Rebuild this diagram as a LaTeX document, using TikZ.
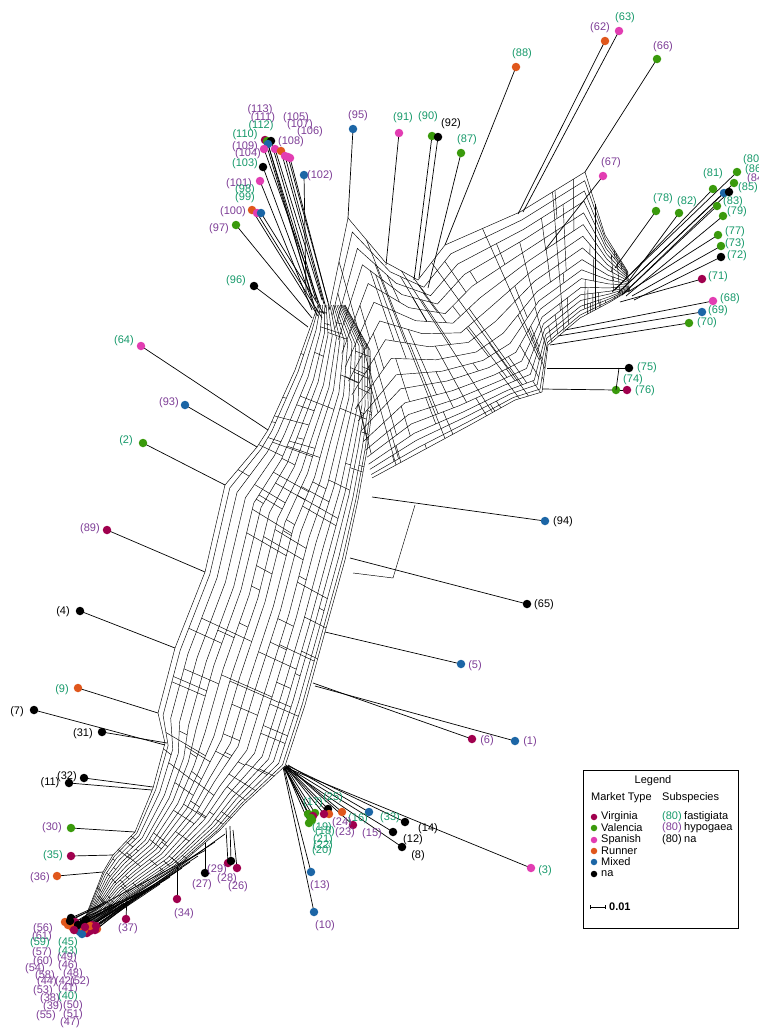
\documentclass[tikz,border=0pt]{standalone}
\usepackage{fontspec}
\setmainfont{Liberation Sans}
\usetikzlibrary{calc,arrows.meta}
\definecolor{cVir}{HTML}{A0004E}
\definecolor{cVal}{HTML}{3A9A0C}
\definecolor{cSpa}{HTML}{E23DB2}
\definecolor{cRun}{HTML}{E0571C}
\definecolor{cMix}{HTML}{1C66A6}
\definecolor{cNa}{HTML}{000000}
\definecolor{lFas}{HTML}{16996A}
\definecolor{lHyp}{HTML}{7D3D96}
\pgfdeclarelayer{edges}
\pgfsetlayers{edges,main}
\newcommand\leaf[6]{%
  \coordinate (a#1) at (#4);
  \node[dot,fill=#3] (d#1) at (#2) {};
  \begin{pgfonlayer}{edges}\draw[leafedge] (a#1) -- (d#1.center);\end{pgfonlayer}
  \node[lab,text=#6] (t#1) at (#5) {(#1)};
}
\begin{document}
\begin{tikzpicture}[x=1pt,y=-1pt,
  net/.style={line width=0.45pt},
  leafedge/.style={line width=0.7pt},
  dot/.style={circle,inner sep=0pt,minimum size=8.5pt},
  ldot/.style={circle,inner sep=0pt,minimum size=6.5pt},
  lab/.style={font=\fontsize{11}{12}\selectfont,inner sep=0pt}]
\useasboundingbox (0,0) rectangle (759,1028);

% ---------- trunk mesh ----------
\foreach \p [count=\i from 0] in {{85,918},{103,872},{113,855},{135,832},{153,788},{165,743},{158,713},{175,648},{205,572},{225,485},{257,447},{268,430},{295,370},{310,328},{318,305}}
  \coordinate (L\i) at (\p);
\foreach \p [count=\i from 0] in {{92,926},{127,898},{150,884},{177,867},{220,830},{243,805},{285,766},{305,705},{325,632},{345,560},{358,500},{367,450},{372,410},{370,350},{345,305}}
  \coordinate (R\i) at (\p);
\def\tlist{{0,0.04,0.1,0.17,0.24,0.3,0.37,0.44,0.5,0.57,0.63,0.7,0.76,0.82,0.87,0.91,0.95,0.98,1}}
\foreach \s in {0,0.04,0.1,0.17,0.24,0.3,0.37,0.44,0.5,0.57,0.63,0.7,0.76,0.82,0.87,0.91,0.95,0.98,1}
  \draw[net] ($(L0)!\s!(R0)$) \foreach \i in {1,...,14} { -- ($(L\i)!\s!(R\i)$) };
\pgfmathsetseed{11}
\foreach \i in {0,...,13}{
  \foreach \r in {1,...,11}{
    \pgfmathtruncatemacro\j{\i+1}
    \pgfmathsetmacro\f{0.05+0.9*rnd}
    \pgfmathtruncatemacro\a{floor(17.99*rnd)}
    \pgfmathtruncatemacro\b{min(\a+1+floor(5.99*rnd),18)}
    \pgfmathsetmacro\sa{\tlist[\a]}
    \pgfmathsetmacro\sb{\tlist[\b]}
    \coordinate (pL) at ($(L\i)!\f!(L\j)$);
    \coordinate (pR) at ($(R\i)!\f!(R\j)$);
    \draw[net] ($(pL)!\sa!(pR)$) -- ($(pL)!\sb!(pR)$);
  }
}

% ---------- arm mesh ----------
\foreach \p [count=\i from 0] in {{330,305},{348,218},{385,262},{418,280},{445,245},{520,212},{585,172},{605,235},{628,272}}
  \coordinate (T\i) at (\p);
\foreach \p [count=\i from 0] in {{372,478},{420,452},{470,425},{515,400},{542,392},{548,345},{580,318},{610,302},{630,290}}
  \coordinate (B\i) at (\p);
\def\alist{{0,0.06,0.13,0.2,0.28,0.36,0.44,0.52,0.6,0.67,0.73,0.79,0.84,0.88,0.92,0.95,0.98,1}}
\foreach \s in {0,0.06,0.13,0.2,0.28,0.36,0.44,0.52,0.6,0.67,0.73,0.79,0.84,0.88,0.92,0.95,0.98,1}
  \draw[net] ($(T0)!\s!(B0)$) \foreach \i in {1,...,8} { -- ($(T\i)!\s!(B\i)$) };
\pgfmathsetseed{5}
\foreach \i in {0,...,7}{
  \pgfmathtruncatemacro\j{\i+1}
  \coordinate (qT) at ($(T\i)!0.5!(T\j)$);
  \coordinate (qB) at ($(B\i)!0.5!(B\j)$);
  \draw[net] (qT) -- (qB);
  \foreach \r in {1,...,11}{
    \pgfmathsetmacro\f{0.05+0.9*rnd}
    \pgfmathtruncatemacro\a{floor(16.99*rnd)}
    \pgfmathtruncatemacro\b{min(\a+1+floor(5.99*rnd),17)}
    \pgfmathsetmacro\sa{\alist[\a]}
    \pgfmathsetmacro\sb{\alist[\b]}
    \coordinate (pT) at ($(T\i)!\f!(T\j)$);
    \coordinate (pB) at ($(B\i)!\f!(B\j)$);
    \draw[net] ($(pT)!\sa!(pB)$) -- ($(pT)!\sb!(pB)$);
  }
}

% ---------- leaves: top cluster ----------
\leaf{113}{265,140}{cVir}{312,296}{260,110}{lHyp}
\leaf{112}{267,141}{cVal}{316,300}{261,126}{lFas}
\leaf{111}{271,141}{cNa}{318,303}{263,118}{lHyp}
\leaf{110}{268,144}{cMix}{314,305}{245,135}{lFas}
\leaf{109}{264,149}{cSpa}{320,306}{245,147}{lHyp}
\leaf{104}{275,149}{cSpa}{322,300}{248,154}{lHyp}
\leaf{108}{281,151}{cRun}{324,304}{291,142}{lHyp}
\leaf{105}{285,156}{cSpa}{326,308}{296,118}{lHyp}
\leaf{107}{288,157}{cSpa}{328,302}{300,125}{lHyp}
\leaf{106}{290,158}{cSpa}{330,310}{310,132}{lHyp}
\leaf{103}{263,167}{cNa}{316,312}{245,164}{lFas}
\leaf{101}{260,181}{cSpa}{312,310}{239,184}{lHyp}
\leaf{102}{304,175}{cMix}{306,292}{320,176}{lHyp}
\leaf{100}{252,210}{cRun}{318,316}{233,212}{lHyp}
\leaf{98}{257,213}{cSpa}{322,318}{245,190}{lFas}
\leaf{99}{261,213}{cMix}{324,314}{245,198}{lFas}
\leaf{97}{236,225}{cVal}{312,318}{219,229}{lHyp}
\leaf{96}{254,286}{cNa}{308,327}{236,281}{lFas}
% top middle
\leaf{95}{353,129}{cMix}{348,218}{358,116}{lHyp}
\leaf{91}{399,133}{cSpa}{386,265}{403,118}{lFas}
\leaf{90}{432,136}{cVal}{414,280}{428,117}{lFas}
\leaf{92}{438,137}{cNa}{419,278}{451,124}{black}
\leaf{87}{461,153}{cVal}{428,288}{467,140}{lFas}
\leaf{88}{516,67}{cRun}{445,245}{522,54}{lFas}
\leaf{62}{605,41}{cRun}{518,214}{600,28}{lHyp}
\leaf{63}{619,31}{cSpa}{523,212}{625,18}{lFas}
\leaf{66}{657,59}{cVal}{585,172}{663,47}{lHyp}
\leaf{67}{603,176}{cSpa}{545,250}{611,163}{lHyp}
% right
\leaf{78}{656,211}{cVal}{615,268}{663,199}{lFas}
\leaf{82}{679,213}{cVal}{628,282}{687,202}{lFas}
\leaf{81}{713,189}{cVal}{615,290}{713,174}{lFas}
\leaf{80}{737,172}{cVal}{612,292}{753,160}{lFas}
\leaf{86}{734,183}{cVal}{618,293}{755,170}{lFas}
\leaf{84}{724,193}{cMix}{620,291}{757,179}{lHyp}
\leaf{85}{729,192}{cNa}{622,295}{748,188}{lFas}
\leaf{83}{717,206}{cVal}{624,293}{733,202}{lFas}
\leaf{79}{723,216}{cVal}{626,296}{737,212}{lFas}
\leaf{77}{718,235}{cVal}{628,292}{735,232}{lFas}
\leaf{73}{721,246}{cVal}{632,296}{735,244}{lFas}
\leaf{72}{721,257}{cNa}{634,300}{737,256}{lFas}
\leaf{71}{702,279}{cVir}{620,302}{718,277}{lFas}
\leaf{68}{713,301}{cSpa}{565,330}{730,299}{lFas}
\leaf{69}{702,312}{cMix}{558,336}{718,311}{lFas}
\leaf{70}{689,323}{cVal}{550,345}{707,323}{lFas}
\leaf{75}{629,368}{cNa}{547,368}{647,368}{lFas}
\leaf{74}{616,390}{cVal}{542,389}{633,380}{lFas}
\leaf{76}{627,390}{cVir}{616,390}{645,391}{lFas}
\coordinate (s75) at (619,368);
\draw[leafedge] (s75) -- (d74.center);
% middle right
\leaf{94}{545,521}{cMix}{372,497}{563,522}{black}
\leaf{65}{527,604}{cNa}{350,558}{544,605}{black}
\coordinate (s65a) at (353,573); \coordinate (s65b) at (393,578); \coordinate (s94) at (415,505);
\draw[net] (s65a) -- (s65b) -- (s94);
\leaf{5}{461,664}{cMix}{325,632}{475,666}{lHyp}
\leaf{6}{472,739}{cVir}{313,683}{487,741}{lHyp}
\leaf{1}{515,741}{cMix}{315,686}{530,742}{lHyp}
% hub
\leaf{3}{531,868}{cSpa}{287,768}{545,871}{lFas}
\leaf{14}{405,822}{cNa}{288,766}{428,829}{black}
\leaf{12}{393,832}{cNa}{287,767}{413,840}{black}
\leaf{8}{402,847}{cNa}{286,768}{418,856}{black}
\leaf{33}{369,812}{cMix}{288,765}{390,818}{lFas}
\leaf{15}{353,825}{cVir}{287,766}{372,834}{lHyp}
\leaf{16}{342,812}{cRun}{286,765}{358,819}{lFas}
\leaf{17}{308,814}{cVal}{285,767}{313,803}{lFas}
\leaf{25}{328,809}{cNa}{286,766}{333,798}{lFas}
\leaf{19}{309,823}{cVal}{285,768}{322,828}{lFas}
\leaf{24}{329,814}{cRun}{286,767}{342,823}{lHyp}
\leaf{18}{315,813}{cVal}{285,766}{325,832}{lFas}
\leaf{23}{324,814}{cVir}{286,767}{345,833}{lHyp}
\leaf{21}{313,816}{cVir}{285,768}{323,840}{lFas}
\leaf{22}{311,818}{cVal}{284,767}{323,846}{lFas}
\leaf{20}{312,820}{cVal}{284,768}{322,851}{lFas}
\leaf{13}{311,872}{cMix}{284,768}{320,886}{lHyp}
\leaf{10}{314,912}{cMix}{283,767}{325,926}{lHyp}
% bottom / left
\leaf{27}{205,873}{cNa}{205,843}{202,885}{lHyp}
\leaf{29}{228,863}{cVir}{226,828}{217,870}{lHyp}
\leaf{28}{231,861}{cNa}{230,826}{227,879}{lHyp}
\leaf{26}{237,868}{cVir}{233,830}{238,887}{lHyp}
\leaf{34}{177,899}{cVir}{177,867}{184,914}{lHyp}
\leaf{37}{126,919}{cVir}{127,897}{128,929}{lHyp}
\leaf{30}{71,828}{cVal}{135,832}{52,828}{lHyp}
\leaf{35}{71,856}{cVir}{113,855}{53,856}{lFas}
\leaf{36}{57,876}{cRun}{103,872}{40,878}{lHyp}
\leaf{32}{84,778}{cNa}{153,787}{67,777}{black}
\leaf{11}{69,783}{cNa}{152,790}{50,783}{black}
\leaf{31}{102,732}{cNa}{167,743}{83,734}{black}
\leaf{7}{34,710}{cNa}{165,745}{17,712}{black}
\leaf{9}{78,688}{cRun}{158,713}{62,690}{lFas}
\leaf{4}{80,611}{cNa}{175,648}{63,612}{black}
\leaf{89}{107,530}{cVir}{205,572}{90,529}{lHyp}
\leaf{2}{143,443}{cVal}{225,485}{126,441}{lFas}
\leaf{93}{185,405}{cMix}{257,447}{169,403}{lHyp}
\leaf{64}{141,346}{cSpa}{268,430}{124,341}{lFas}
% bottom cluster
\leaf{56}{65,922}{cRun}{100,906}{43,929}{lHyp}
\leaf{61}{71,918}{cNa}{104,903}{42,937}{lHyp}
\leaf{59}{75,922}{cVir}{108,902}{40,943}{lFas}
\leaf{45}{72,927}{cRun}{112,904}{68,943}{lFas}
\leaf{57}{77,930}{cVir}{116,903}{42,953}{lHyp}
\leaf{43}{83,923}{cNa}{120,901}{68,952}{lFas}
\leaf{49}{80,932}{cMix}{124,903}{67,958}{lHyp}
\leaf{60}{88,928}{cMix}{128,901}{43,962}{lHyp}
\leaf{54}{87,933}{cVir}{132,899}{35,969}{lHyp}
\leaf{46}{97,929}{cRun}{136,897}{68,966}{lHyp}
\leaf{58}{92,925}{cVir}{140,894}{45,976}{lHyp}
\leaf{48}{95,930}{cVir}{145,892}{73,974}{lHyp}
\leaf{44}{86,920}{cNa}{150,889}{47,982}{lHyp}
\leaf{42}{68,925}{cRun}{155,886}{65,982}{lHyp}
\leaf{52}{90,931}{cVir}{160,884}{80,982}{lHyp}
\leaf{53}{78,925}{cNa}{165,880}{43,991}{lHyp}
\leaf{41}{84,930}{cRun}{170,877}{68,989}{lHyp}
\leaf{38}{74,930}{cVir}{176,872}{50,999}{lHyp}
\leaf{40}{93,928}{cVir}{182,868}{68,997}{lFas}
\leaf{39}{82,934}{cMix}{190,862}{53,1007}{lHyp}
\leaf{50}{90,926}{cRun}{198,856}{73,1006}{lHyp}
\leaf{55}{70,921}{cNa}{206,850}{46,1016}{lHyp}
\leaf{51}{85,927}{cVir}{215,842}{73,1015}{lHyp}
\leaf{47}{96,926}{cVir}{225,834}{70,1023}{lHyp}

% ---------- legend ----------
\node[draw,line width=0.7pt,minimum width=155pt,minimum height=158pt,anchor=north west,inner sep=0pt] (legbox) at (583,770) {};
\node[lab] (legT) at (653,781) {Legend};
\node[lab,anchor=west] (legMT) at (591,798) {Market Type};
\node[lab,anchor=west] (legSS) at (662,798) {Subspecies};
\foreach \c/\t/\y [count=\k] in {cVir/Virginia/817,cVal/Valencia/828,cSpa/Spanish/840,cRun/Runner/851,cMix/Mixed/862,cNa/na/874}{
  \node[ldot,fill=\c] (lgd\k) at (594,\y) {};
  \node[lab,anchor=west] (lgt\k) at (601,\y) {\t};
}
\foreach \c/\t/\y [count=\k] in {lFas/fastigiata/817,lHyp/hypogaea/828,black/na/840}{
  \node[lab,anchor=west,text=\c] (lgs\k) at (662,\y) {(80)};
  \node[lab,anchor=west] (lgn\k) at (684,\y) {\t};
}
\coordinate (sb1) at (590,907); \coordinate (sb2) at (606,907);
\draw[line width=0.6pt,{Bar[width=4pt]}-{Bar[width=4pt]}] (sb1) -- (sb2);
\node[lab,anchor=west,font=\fontsize{11}{12}\selectfont\bfseries] (sbl) at (609,907) {0.01};
\end{tikzpicture}
\end{document}
